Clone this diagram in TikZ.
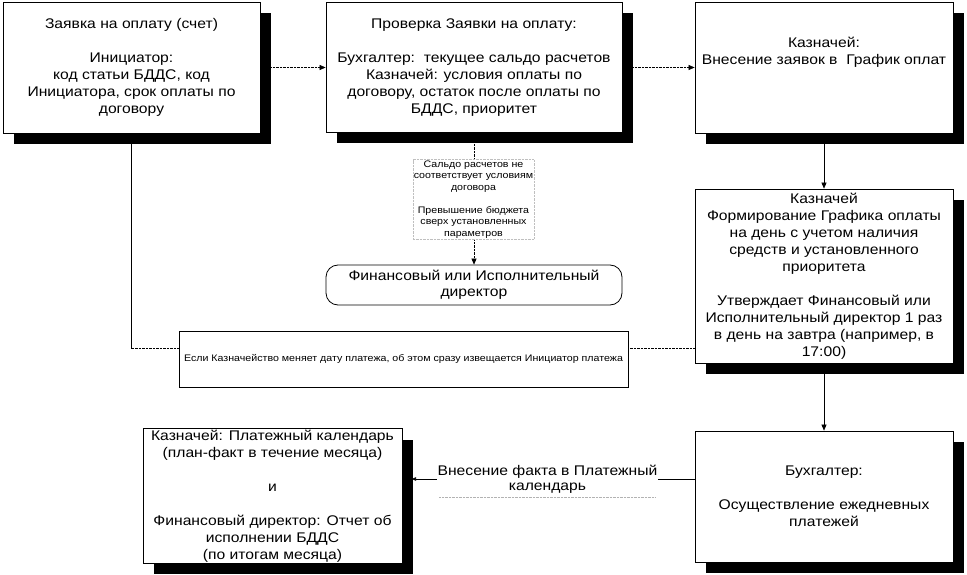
\documentclass[tikz,border=0pt]{standalone}
\usepackage{fontspec}
\setmainfont{Liberation Sans}[FakeStretch=1.12]
\usetikzlibrary{arrows.meta,shadows}
\begin{document}
\begin{tikzpicture}[x=1pt,y=-1pt,
  box/.style={draw=black, line width=0.8pt, fill=white, align=center, inner sep=1pt,
    font=\fontsize{14}{17}\selectfont,
    general shadow={fill=black, shadow xshift=11pt, shadow yshift=-11pt}},
  rbox/.style={draw=black, line width=0.8pt, fill=white, align=center, inner sep=1pt,
    rounded corners=12pt, font=\fontsize{14}{16}\selectfont},
  notebox/.style={draw=black, line width=0.7pt, fill=white, align=center, inner sep=1pt,
    font=\fontsize{9.5}{11.5}\selectfont},
  condlabel/.style={draw=gray!50, dash pattern=on 0.7pt off 0.7pt, line width=0.5pt, fill=white,
    align=center, inner sep=1pt, font=\fontsize{9.5}{11.5}\selectfont},
  factlabel/.style={fill=white, align=center, inner sep=0.5pt, font=\fontsize{14}{15}\selectfont},
  conn/.style={line width=0.6pt},
  dotline/.style={line width=0.6pt, dash pattern=on 0.7pt off 0.7pt},
  arr/.style={-{Triangle[length=6pt,width=5pt]}},
  smallarr/.style={-{Triangle[length=4pt,width=3.5pt]}}
]
\useasboundingbox (0,0) rectangle (967,575);

% boxes
\node[box, minimum width=257pt, minimum height=131pt] (A) at (131.5,67.5)
  {Заявка на оплату (счет)\\~\\Инициатор:\\код статьи БДДС, код\\Инициатора, срок оплаты по\\договору};
\node[box, minimum width=296pt, minimum height=130pt] (B) at (474,67.5)
  {Проверка Заявки на оплату:\\~\\Бухгалтер:\ \ текущее сальдо расчетов\\Казначей: условия оплаты по\\договору, остаток после оплаты по\\БДДС, приоритет};
\node[box, minimum width=258pt, minimum height=131pt] (C) at (824,67.5)
  {Казначей:\\Внесение заявок в\ \ График оплат\\~\\~};
\node[box, minimum width=258pt, minimum height=174pt] (D) at (824,276)
  {Казначей\\Формирование Графика оплаты\\на день с учетом наличия\\средств и установленного\\приоритета\\~\\Утверждает Финансовый или\\Исполнительный директор 1 раз\\в день на завтра (например, в\\17:00)};
\node[box, minimum width=258pt, minimum height=131pt] (E) at (824,496.5)
  {Бухгалтер:\\~\\Осуществление ежедневных\\платежей};
\node[box, minimum width=259pt, minimum height=130pt] (F) at (272.5,496)
  {Казначей: Платежный календарь\\(план-факт в течение месяца)\\~\\и\\~\\Финансовый директор: Отчет об\\исполнении БДДС\\(по итогам месяца)};
\node[rbox, minimum width=296pt, minimum height=40pt] (G) at (474,285)
  {Финансовый или Исполнительный\\директор};
\node[notebox, minimum width=449pt, minimum height=56pt] (N) at (403.5,359)
  {Если Казначейство меняет дату платежа, об этом сразу извещается Инициатор платежа};

% connectors
\draw[dotline, arr] ([xshift=11pt]A.east) -- (B.west);
\draw[dotline, arr] ([xshift=11pt]B.east) -- (C.west);
\draw[conn, arr] ([yshift=-11pt]C.south) -- (C.south |- D.north);
\draw[conn, arr] ([yshift=-11pt]D.south) -- (D.south |- E.north);
\draw[dotline, arr] ([yshift=-11pt]B.south) -- (B.south |- G.north);

\coordinate (ne) at ([yshift=11pt]N.east);
\coordinate (nw) at ([yshift=11pt]N.west);
\coordinate (k) at (131,348);
\draw[dotline] (D.west |- ne) -- (ne);
\draw[dotline] (nw) -- (k);
\draw[conn] (k) -- (k |- 0,144);

\coordinate (ef) at (695,479);
\draw[conn, smallarr] (ef) -- (412,479);

% labels on connectors
\node[condlabel, minimum width=117pt, minimum height=78pt] (L) at (473.5,199.5)
  {Сальдо расчетов не\\соответствует условиям\\договора\\~\\Превышение бюджета\\сверх установленных\\параметров};
\node[factlabel] (M) at (547.5,479.5) {Внесение факта в Платежный\\календарь};
\draw[draw=gray!60, dash pattern=on 0.7pt off 0.7pt, line width=0.5pt] (439,497) -- (655,497);
\end{tikzpicture}
\end{document}
